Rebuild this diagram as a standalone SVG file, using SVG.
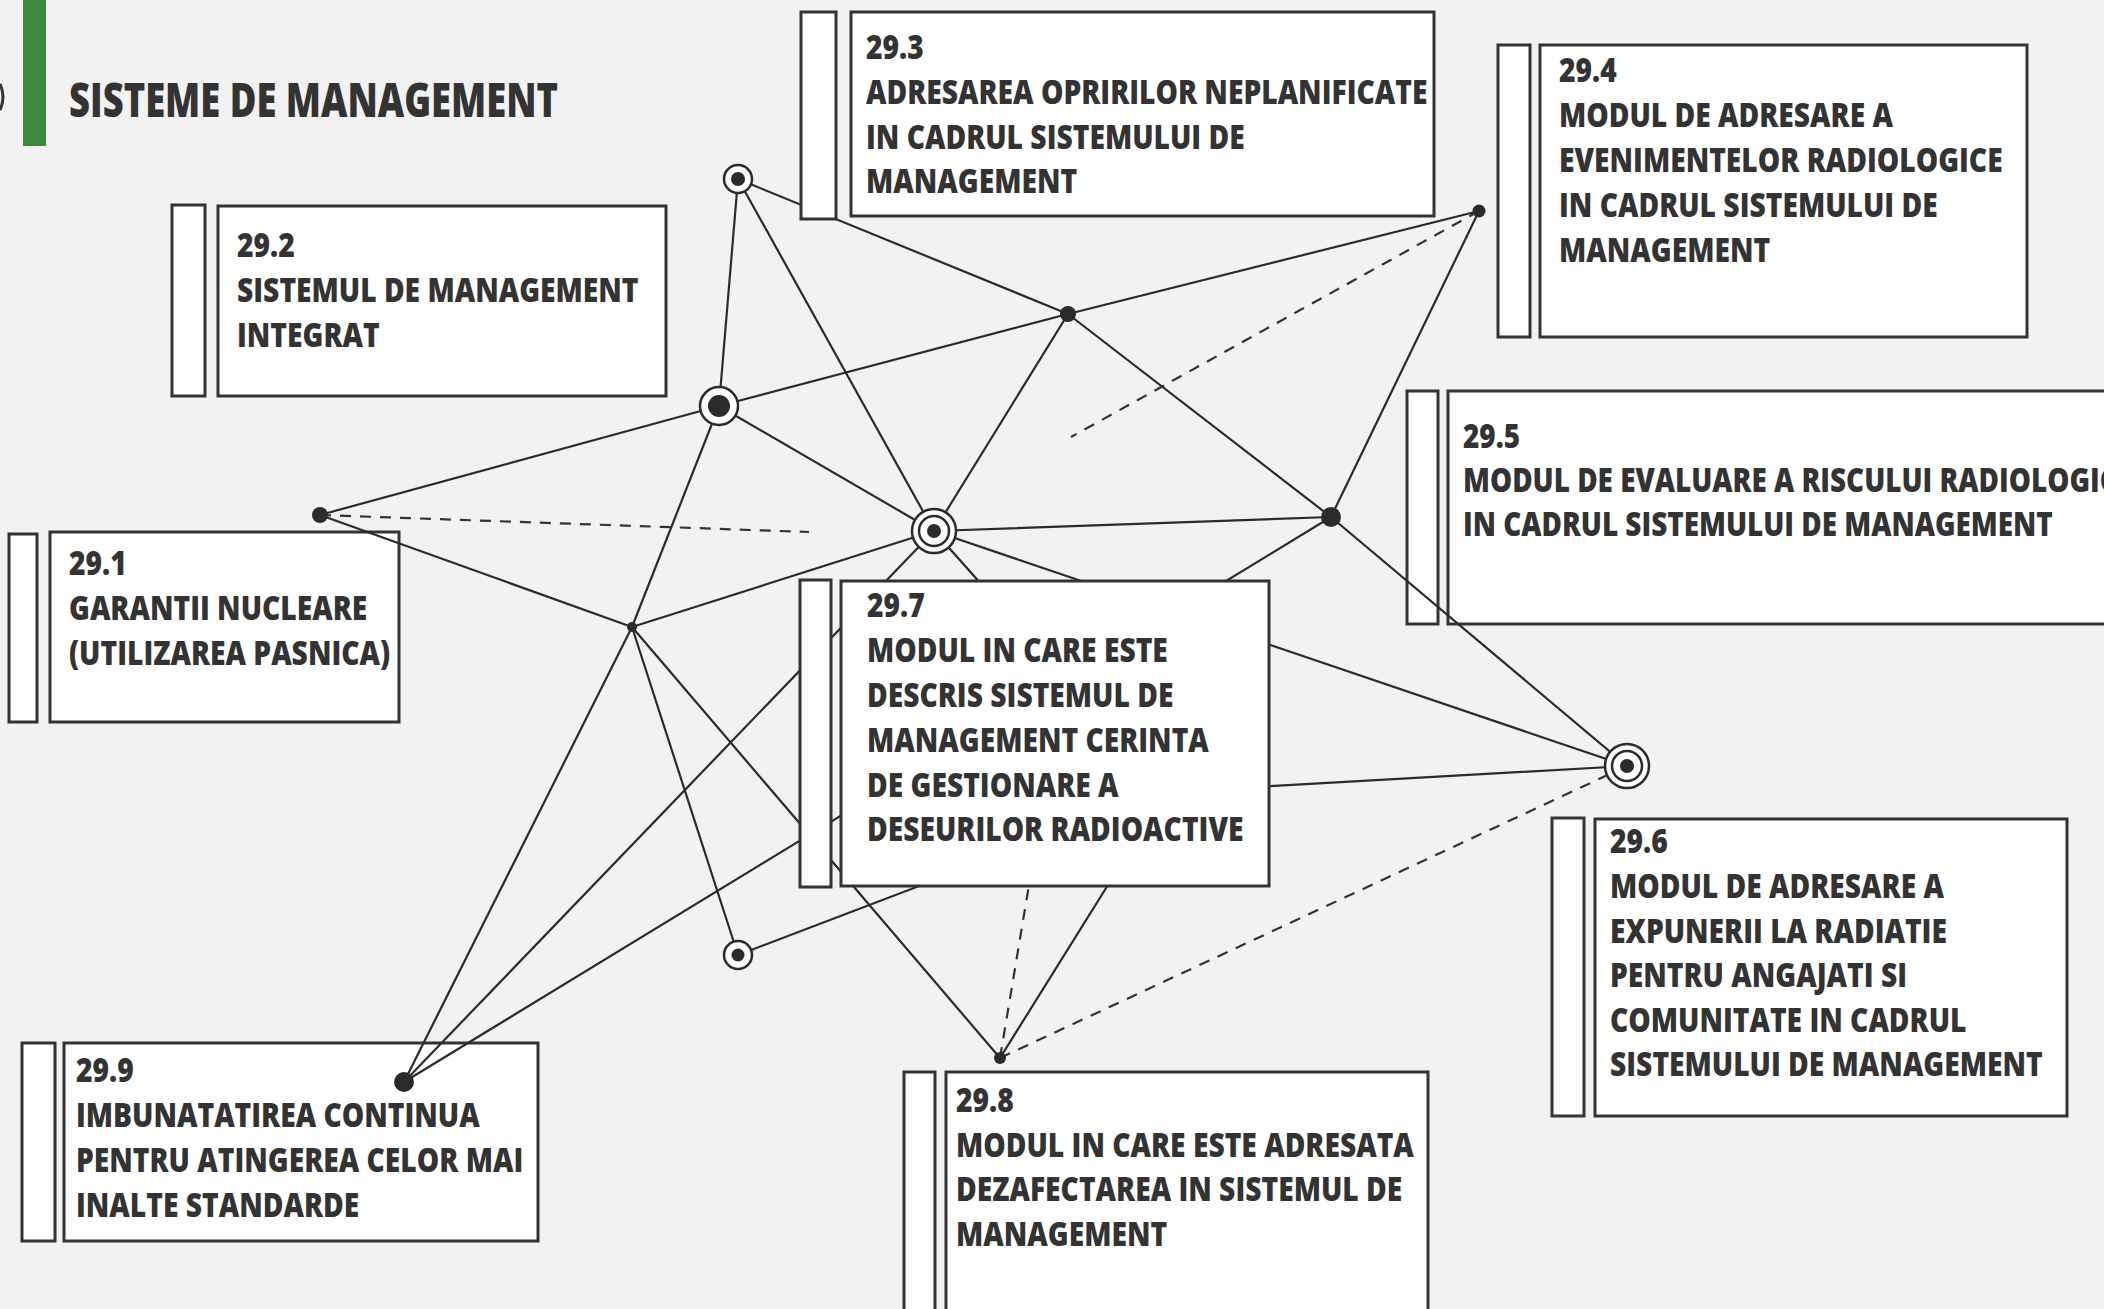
<svg xmlns="http://www.w3.org/2000/svg" width="2104" height="1309" viewBox="0 0 2104 1309">
<style>
.bx{fill:#fff;stroke:#333;stroke-width:3}
.t{font-family:"Open Sans","Liberation Sans",sans-serif;font-weight:800;font-size:34px;fill:#333}
.ttl{font-family:"Open Sans","Liberation Sans",sans-serif;font-weight:800;font-size:48px;fill:#333}
.ln{stroke:#2b2b2b;stroke-width:2.2;fill:none;stroke-linecap:round}
.dsh{stroke:#333;stroke-width:2.2;fill:none;stroke-dasharray:11 9}
.dot{fill:#2b2b2b}
.ring{fill:#fff;stroke:#2b2b2b;stroke-width:2.5}
</style>
<rect width="2104" height="1309" fill="#f2f2f2"/>
<path d="M0,84 Q6,97 0,110" fill="none" stroke="#333" stroke-width="3"/>
<g id="title">
<rect x="23" y="0" width="23" height="146" fill="#3c8c3c"/>
<text class="ttl" x="69" y="117" textLength="489" lengthAdjust="spacingAndGlyphs">SISTEME DE MANAGEMENT</text>
</g>
<g id="box-29-1">
<rect class="bx" x="9" y="534" width="28" height="188"/>
<rect class="bx" x="50" y="532" width="349" height="190"/>
<text class="t" transform="translate(69,0) scale(0.83,1)"><tspan x="0" y="575">29.1</tspan><tspan x="0" y="620">GARANTII NUCLEARE</tspan><tspan x="0" y="665">(UTILIZAREA PASNICA)</tspan></text>
</g>
<g id="box-29-2">
<rect class="bx" x="172" y="205" width="33" height="191"/>
<rect class="bx" x="218" y="206" width="448" height="190"/>
<text class="t" transform="translate(237,0) scale(0.83,1)"><tspan x="0" y="257">29.2</tspan><tspan x="0" y="302">SISTEMUL DE MANAGEMENT</tspan><tspan x="0" y="347">INTEGRAT</tspan></text>
</g>
<g id="box-29-4">
<rect class="bx" x="1498" y="45" width="32" height="292"/>
<rect class="bx" x="1540" y="45" width="487" height="292"/>
<text class="t" transform="translate(1559,0) scale(0.83,1)"><tspan x="0" y="82">29.4</tspan><tspan x="0" y="127">MODUL DE ADRESARE A</tspan><tspan x="0" y="172">EVENIMENTELOR RADIOLOGICE</tspan><tspan x="0" y="217">IN CADRUL SISTEMULUI DE</tspan><tspan x="0" y="262">MANAGEMENT</tspan></text>
</g>
<g id="box-29-5">
<rect class="bx" x="1407" y="391" width="31" height="233"/>
<rect class="bx" x="1448" y="391" width="720" height="233"/>
<text class="t" transform="translate(1463,0) scale(0.82,1)"><tspan x="0" y="448">29.5</tspan><tspan x="0" y="492">MODUL DE EVALUARE A RISCULUI RADIOLOGIC</tspan><tspan x="0" y="536">IN CADRUL SISTEMULUI DE MANAGEMENT</tspan></text>
</g>
<g id="box-29-6">
<rect class="bx" x="1552" y="818" width="32" height="298"/>
<rect class="bx" x="1595" y="819" width="472" height="297"/>
<text class="t" transform="translate(1610,0) scale(0.83,1)"><tspan x="0" y="853">29.6</tspan><tspan x="0" y="898">MODUL DE ADRESARE A</tspan><tspan x="0" y="943">EXPUNERII LA RADIATIE</tspan><tspan x="0" y="987">PENTRU ANGAJATI SI</tspan><tspan x="0" y="1032">COMUNITATE IN CADRUL</tspan><tspan x="0" y="1076">SISTEMULUI DE MANAGEMENT</tspan></text>
</g>
<g id="box-29-8">
<rect class="bx" x="904" y="1072" width="31" height="260"/>
<rect class="bx" x="946" y="1072" width="482" height="260"/>
<text class="t" transform="translate(956,0) scale(0.83,1)"><tspan x="0" y="1112">29.8</tspan><tspan x="0" y="1157">MODUL IN CARE ESTE ADRESATA</tspan><tspan x="0" y="1201">DEZAFECTAREA IN SISTEMUL DE</tspan><tspan x="0" y="1246">MANAGEMENT</tspan></text>
</g>
<g id="box-29-9">
<rect class="bx" x="22" y="1043" width="33" height="198"/>
<rect class="bx" x="64" y="1043" width="474" height="198"/>
<text class="t" transform="translate(76,0) scale(0.83,1)"><tspan x="0" y="1082">29.9</tspan><tspan x="0" y="1127">IMBUNATATIREA CONTINUA</tspan><tspan x="0" y="1172">PENTRU ATINGEREA CELOR MAI</tspan><tspan x="0" y="1217">INALTE STANDARDE</tspan></text>
</g>
<g id="connectors">
<line class="ln" x1="738" y1="179" x2="719" y2="406"/>
<line class="ln" x1="738" y1="179" x2="934" y2="531"/>
<line class="ln" x1="738" y1="179" x2="1068" y2="314"/>
<line class="ln" x1="719" y1="406" x2="1068" y2="314"/>
<line class="ln" x1="1068" y1="314" x2="1479" y2="211"/>
<line class="ln" x1="1068" y1="314" x2="934" y2="531"/>
<line class="ln" x1="1068" y1="314" x2="1331" y2="517"/>
<line class="ln" x1="1479" y1="211" x2="1331" y2="517"/>
<line class="ln" x1="719" y1="406" x2="320" y2="515"/>
<line class="ln" x1="719" y1="406" x2="934" y2="531"/>
<line class="ln" x1="719" y1="406" x2="632" y2="627"/>
<line class="ln" x1="320" y1="515" x2="632" y2="627"/>
<line class="ln" x1="632" y1="627" x2="934" y2="531"/>
<line class="ln" x1="632" y1="627" x2="404" y2="1082"/>
<line class="ln" x1="632" y1="627" x2="738" y2="955"/>
<line class="ln" x1="632" y1="627" x2="1000" y2="1058"/>
<line class="ln" x1="404" y1="1082" x2="934" y2="531"/>
<line class="ln" x1="404" y1="1082" x2="1331" y2="517"/>
<line class="ln" x1="934" y1="531" x2="1331" y2="517"/>
<line class="ln" x1="934" y1="531" x2="1627" y2="766"/>
<line class="ln" x1="1331" y1="517" x2="1627" y2="766"/>
<line class="ln" x1="934" y1="531" x2="1166" y2="792"/>
<line class="ln" x1="1000" y1="1058" x2="1166" y2="792"/>
<line class="ln" x1="738" y1="955" x2="1166" y2="792"/>
<line class="ln" x1="1166" y1="792" x2="1627" y2="766"/>
<line class="dsh" x1="320" y1="515" x2="809" y2="532"/>
<line class="dsh" x1="1479" y1="211" x2="1071" y2="437"/>
<line class="dsh" x1="1000" y1="1058" x2="1627" y2="766"/>
<line class="dsh" x1="1000" y1="1058" x2="1060" y2="700"/>
</g>
<g id="box-29-3">
<rect class="bx" x="801" y="12" width="35" height="207"/>
<rect class="bx" x="851" y="12" width="583" height="204"/>
<text class="t" transform="translate(866,0) scale(0.83,1)"><tspan x="0" y="59">29.3</tspan><tspan x="0" y="104">ADRESAREA OPRIRILOR NEPLANIFICATE</tspan><tspan x="0" y="149">IN CADRUL SISTEMULUI DE</tspan><tspan x="0" y="193">MANAGEMENT</tspan></text>
</g>
<g id="box-29-7">
<rect class="bx" x="800" y="580" width="31" height="307"/>
<rect class="bx" x="841" y="581" width="428" height="305"/>
<text class="t" transform="translate(867,0) scale(0.83,1)"><tspan x="0" y="617">29.7</tspan><tspan x="0" y="662">MODUL IN CARE ESTE</tspan><tspan x="0" y="707">DESCRIS SISTEMUL DE</tspan><tspan x="0" y="752">MANAGEMENT CERINTA</tspan><tspan x="0" y="797">DE GESTIONARE A</tspan><tspan x="0" y="841">DESEURILOR RADIOACTIVE</tspan></text>
</g>
<g id="node-T"><circle class="ring" cx="738" cy="179" r="14"/><circle class="dot" cx="738" cy="179" r="7"/></g>
<g id="node-L"><circle class="ring" cx="719" cy="406" r="19" stroke-width="3"/><circle class="dot" cx="719" cy="406" r="11"/></g>
<g id="node-M"><circle class="dot" cx="1068" cy="314" r="8"/></g>
<g id="node-R1"><circle class="dot" cx="1479" cy="211" r="6.5"/></g>
<g id="node-A"><circle class="dot" cx="320" cy="515" r="8"/></g>
<g id="node-B"><circle class="dot" cx="632" cy="627" r="5"/></g>
<g id="node-C"><circle class="ring" cx="934" cy="531" r="22"/><circle class="ring" cx="934" cy="531" r="15"/><circle class="dot" cx="934" cy="531" r="7"/></g>
<g id="node-N"><circle class="dot" cx="1331" cy="517" r="10"/></g>
<g id="node-P"><circle class="ring" cx="1627" cy="766" r="22"/><circle class="ring" cx="1627" cy="766" r="15"/><circle class="dot" cx="1627" cy="766" r="7"/></g>
<g id="node-S"><circle class="ring" cx="738" cy="955" r="14"/><circle class="dot" cx="738" cy="955" r="6.5"/></g>
<g id="node-D"><circle class="dot" cx="404" cy="1082" r="10"/></g>
<g id="node-E"><circle class="dot" cx="1000" cy="1058" r="6"/></g>
</svg>
